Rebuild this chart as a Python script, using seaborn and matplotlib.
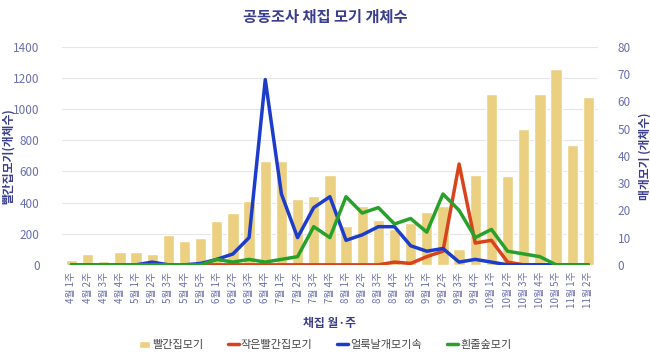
import numpy as np
import pandas as pd
import matplotlib
matplotlib.use("Agg")
import matplotlib.pyplot as plt
import seaborn as sns
from matplotlib.patches import Patch
from matplotlib.lines import Line2D

# week labels (33 weeks)
weeks = ["4월 1주", "4월 2주", "4월 3주", "4월 4주",
         "5월 1주", "5월 2주", "5월 3주", "5월 4주", "5월 5주",
         "6월 1주", "6월 2주", "6월 3주", "6월 4주",
         "7월 1주", "7월 2주", "7월 3주", "7월 4주",
         "8월 1주", "8월 2주", "8월 3주", "8월 4주", "8월 5주",
         "9월 1주", "9월 2주", "9월 3주", "9월 4주",
         "10월 1주", "10월 2주", "10월 3주", "10월 4주", "10월 5주",
         "11월 1주", "11월 2주"]

# 빨간집모기 (left axis, bars)
culex_pipiens = [30, 70, 25, 85, 85, 70, 190, 150, 175, 280, 335, 410, 670,
                 670, 420, 440, 580, 250, 380, 290, 230, 270, 340, 380, 100,
                 580, 1100, 570, 870, 1100, 1260, 770, 1080]
# 작은빨간집모기 (right axis)
culex_tritaenio = [0, 0, 0, 0, 0, 0, 0, 0, 0, 0, 0, 0, 0,
                   0, 0, 0, 0, 0, 0, 0, 1, 0.5, 3, 5, 37,
                   8, 9, 1, 0, 0, 0, 0, 0]
# 얼룩날개모기속 (right axis)
anopheles = [0, 0, 0, 0, 0, 1, 0, 0, 0.5, 2, 4, 10, 68,
             26, 10, 21, 25, 9, 11, 14, 14, 7, 5, 6, 1,
             2, 1, 0, 0, 0, 0, 0, 0]
# 흰줄숲모기 (right axis)
aedes = [0, 0, 0, 0, 0, 0, 0, 0, 0, 2, 1, 2, 1,
         2, 3, 14, 10, 25, 19, 21, 15, 17, 12, 26, 20,
         10, 13, 5, 4, 3, 0, 0, 0]

navy = "#3a3d8c"
tick_col = "#6a6fae"
bar_col = "#ebd082"
red = "#d8431b"
blue = "#1c3ccc"
green = "#27a12a"

sns.set_theme(style="white")
plt.rcParams['font.family'] = ['Noto Sans CJK KR', 'DejaVu Sans']

fig = plt.figure(figsize=(6.5, 3.55), dpi=100)
ax = fig.add_axes([0.095, 0.254, 0.825, 0.614])

df = pd.DataFrame({"week": weeks, "count": culex_pipiens})
sns.barplot(data=df, x="week", y="count", color=bar_col, width=0.7,
            saturation=1, ax=ax, zorder=2)

ax.set_ylim(0, 1400)
ax.set_yticks(range(0, 1401, 200))
ax.set_xlim(-0.6, len(weeks) - 0.4)
ax.yaxis.grid(True, color="#e6e6ea", linewidth=0.8, zorder=0)
ax.set_axisbelow(True)
for s in ax.spines.values():
    s.set_visible(False)
ax.tick_params(axis='y', colors=tick_col, labelsize=8.5, length=0, pad=16)
ax.tick_params(axis='x', colors=tick_col, labelsize=7, length=0, pad=5)
ax.set_xticks(range(len(weeks)))
ax.set_xticklabels(weeks, rotation=90)
ax.set_xlabel("채집 월·주", color=navy, fontsize=8.5, fontweight="bold", labelpad=6)
ax.set_ylabel("빨간집모기(개체수)", color=navy, fontsize=8.5, fontweight="bold")
ax.yaxis.set_label_coords(-0.088, 0.5)

ax2 = ax.twinx()
x = np.arange(len(weeks))
for vals, col in [(culex_tritaenio, red), (anopheles, blue), (aedes, green)]:
    sns.lineplot(x=x, y=vals, color=col, linewidth=2.5, ax=ax2, zorder=3)
ax2.set_ylim(0, 80)
ax2.set_yticks(range(0, 81, 10))
for s in ax2.spines.values():
    s.set_visible(False)
ax2.tick_params(axis='y', colors=tick_col, labelsize=8.5, length=0, pad=14)
ax2.set_ylabel("매개모기 (개체수)", color=navy, fontsize=8.5, fontweight="bold")
ax2.yaxis.set_label_coords(1.075, 0.5)

fig.suptitle("공동조사 채집 모기 개체수", color=navy, fontsize=11,
             fontweight="bold", x=0.5, y=0.975)

handles = [Patch(facecolor=bar_col, label="빨간집모기"),
           Line2D([0], [0], color=red, lw=2.5, label="작은빨간집모기"),
           Line2D([0], [0], color=blue, lw=2.5, label="얼룩날개모기속"),
           Line2D([0], [0], color=green, lw=2.5, label="흰줄숲모기")]
leg = fig.legend(handles=handles, loc="lower center", ncol=4, frameon=False,
                 bbox_to_anchor=(0.5, -0.015), fontsize=8, handlelength=1.0,
                 handletextpad=0.2, columnspacing=2.2)
for t in leg.get_texts():
    t.set_color("#444444")

fig.savefig("out.png", dpi=100)
